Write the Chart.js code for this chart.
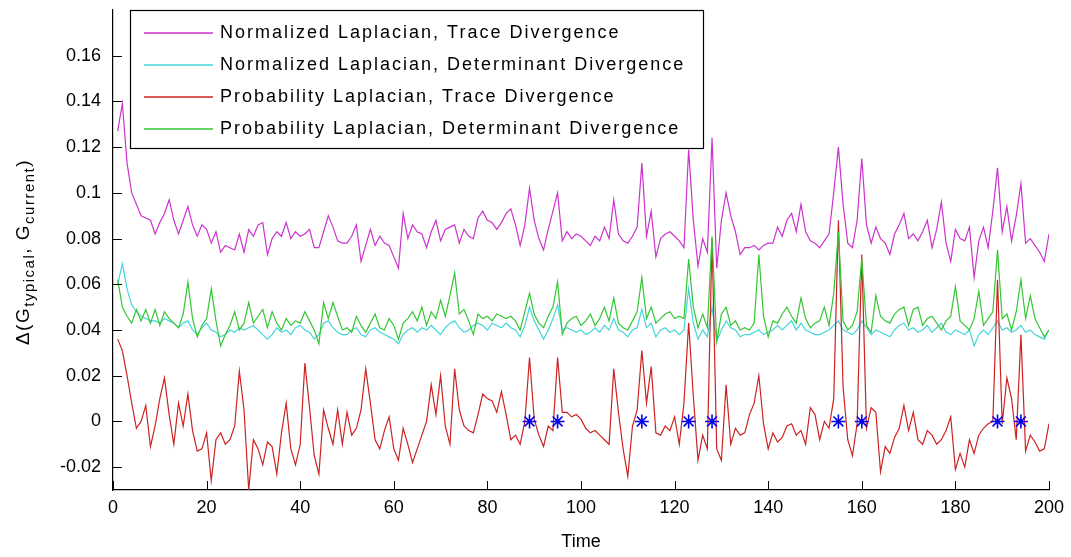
<!DOCTYPE html>
<html>
<head>
<meta charset="utf-8">
<script src="https://cdn.jsdelivr.net/npm/chart.js@4.4.1/dist/chart.umd.min.js"></script>
<style>
  html, body { margin: 0; padding: 0; background: #fff; }
  #chart { display: block; }
</style>
</head>
<body>
<canvas id="chart" width="1071" height="557"></canvas>
<script>
// Time steps 1..200
const times = Array.from({ length: 200 }, (_, i) => i + 1);

// Normalized Laplacian, Trace Divergence
const normTrace = [
  0.127, 0.139, 0.113, 0.100, 0.095, 0.090, 0.089, 0.088, 0.082, 0.087,
  0.091, 0.097, 0.088, 0.082, 0.088, 0.094, 0.086, 0.081, 0.086, 0.084,
  0.078, 0.083, 0.074, 0.077, 0.076, 0.075, 0.082, 0.074, 0.084, 0.081,
  0.086, 0.087, 0.073, 0.080, 0.083, 0.081, 0.087, 0.080, 0.083, 0.081,
  0.082, 0.084, 0.076, 0.076, 0.083, 0.090, 0.085, 0.079, 0.078, 0.078,
  0.081, 0.086, 0.070, 0.077, 0.084, 0.077, 0.081, 0.078, 0.077, 0.072,
  0.067, 0.091, 0.080, 0.086, 0.083, 0.082, 0.076, 0.083, 0.088, 0.079,
  0.084, 0.085, 0.086, 0.078, 0.084, 0.081, 0.080, 0.089, 0.092, 0.088,
  0.087, 0.084, 0.087, 0.091, 0.093, 0.086, 0.077, 0.086, 0.102, 0.088,
  0.080, 0.075, 0.084, 0.092, 0.100, 0.079, 0.083, 0.080, 0.082, 0.081,
  0.079, 0.077, 0.081, 0.079, 0.085, 0.080, 0.097, 0.082, 0.079, 0.078,
  0.081, 0.085, 0.113, 0.081, 0.092, 0.072, 0.080, 0.082, 0.083, 0.081,
  0.079, 0.076, 0.119, 0.088, 0.068, 0.080, 0.074, 0.124, 0.067, 0.088,
  0.100, 0.090, 0.083, 0.073, 0.076, 0.076, 0.077, 0.075, 0.077, 0.078,
  0.078, 0.085, 0.081, 0.088, 0.091, 0.083, 0.095, 0.083, 0.079, 0.078,
  0.076, 0.079, 0.082, 0.100, 0.120, 0.095, 0.078, 0.076, 0.088, 0.115,
  0.086, 0.078, 0.085, 0.080, 0.078, 0.073, 0.082, 0.086, 0.091, 0.080,
  0.082, 0.079, 0.083, 0.088, 0.076, 0.084, 0.096, 0.078, 0.070, 0.084,
  0.080, 0.079, 0.085, 0.063, 0.079, 0.085, 0.076, 0.092, 0.111, 0.083,
  0.094, 0.079, 0.090, 0.104, 0.078, 0.080, 0.077, 0.074, 0.070, 0.082
];

// Normalized Laplacian, Determinant Divergence
const normDet = [
  0.060, 0.069, 0.058, 0.051, 0.048, 0.046, 0.045, 0.044, 0.044, 0.043,
  0.045, 0.044, 0.043, 0.041, 0.043, 0.044, 0.040, 0.038, 0.041, 0.043,
  0.040, 0.039, 0.037, 0.038, 0.040, 0.039, 0.041, 0.040, 0.041, 0.042,
  0.040, 0.038, 0.036, 0.038, 0.041, 0.039, 0.040, 0.038, 0.041, 0.042,
  0.040, 0.039, 0.036, 0.038, 0.043, 0.044, 0.041, 0.039, 0.038, 0.038,
  0.040, 0.041, 0.038, 0.037, 0.040, 0.041, 0.039, 0.038, 0.037, 0.036,
  0.034, 0.038, 0.040, 0.041, 0.039, 0.041, 0.040, 0.042, 0.040, 0.038,
  0.041, 0.043, 0.044, 0.041, 0.039, 0.040, 0.042, 0.043, 0.042, 0.040,
  0.043, 0.042, 0.041, 0.043, 0.041, 0.040, 0.037, 0.042, 0.050, 0.044,
  0.040, 0.036, 0.040, 0.045, 0.051, 0.040, 0.041, 0.040, 0.039, 0.040,
  0.038, 0.039, 0.041, 0.039, 0.042, 0.040, 0.045, 0.040, 0.039, 0.037,
  0.040, 0.041, 0.049, 0.041, 0.043, 0.037, 0.040, 0.041, 0.039, 0.040,
  0.038, 0.040, 0.058, 0.043, 0.036, 0.040, 0.037, 0.050, 0.035, 0.040,
  0.044, 0.041, 0.040, 0.037, 0.038, 0.038, 0.039, 0.040, 0.038, 0.039,
  0.040, 0.042, 0.040, 0.042, 0.044, 0.040, 0.043, 0.040, 0.039, 0.038,
  0.038, 0.039, 0.040, 0.042, 0.044, 0.040, 0.039, 0.038, 0.040, 0.044,
  0.041, 0.038, 0.040, 0.039, 0.038, 0.037, 0.040, 0.042, 0.043, 0.040,
  0.041, 0.039, 0.040, 0.042, 0.039, 0.041, 0.043, 0.039, 0.038, 0.040,
  0.039, 0.038, 0.040, 0.033, 0.038, 0.040, 0.038, 0.041, 0.044, 0.040,
  0.041, 0.039, 0.040, 0.042, 0.039, 0.040, 0.038, 0.037, 0.036, 0.040
];

// Probability Laplacian, Trace Divergence
const probTrace = [
  0.036, 0.031, 0.020, 0.008, -0.003, 0.000, 0.007, -0.011, -0.002, 0.010,
  0.019, 0.003, -0.010, 0.008, -0.002, 0.012, -0.004, -0.013, -0.012, -0.005,
  -0.026, -0.008, -0.005, -0.010, -0.008, -0.002, 0.022, 0.005, -0.030, -0.008,
  -0.012, -0.019, -0.009, -0.011, -0.023, -0.005, 0.008, -0.012, -0.019, -0.010,
  0.0255, 0.006, -0.015, -0.023, 0.005, -0.003, -0.010, 0.005, -0.010, 0.004,
  -0.006, -0.003, 0.005, 0.023, 0.008, -0.008, -0.012, -0.004, 0.002, -0.012,
  -0.017, -0.003, -0.010, -0.018, -0.012, -0.006, 0.000, 0.016, 0.003, 0.020,
  -0.002, -0.010, 0.023, 0.005, -0.002, -0.004, -0.005, 0.003, 0.012, 0.010,
  0.009, 0.004, 0.013, 0.003, -0.008, -0.006, -0.010, 0.000, 0.028, 0.001,
  -0.006, -0.011, -0.002, -0.004, 0.028, 0.004, 0.004, 0.002, 0.003, 0.001,
  -0.003, -0.005, -0.004, -0.006, -0.008, -0.010, 0.023, 0.004, -0.012, -0.024,
  -0.002, 0.005, 0.031, 0.008, 0.024, -0.005, -0.006, -0.002, -0.004, 0.002,
  -0.010, 0.008, 0.043, 0.011, -0.017, -0.006, -0.012, 0.080, -0.012, -0.017,
  0.016, -0.010, -0.003, -0.006, -0.005, 0.003, 0.008, 0.020, -0.001, -0.012,
  -0.005, -0.009, -0.007, -0.002, -0.001, -0.006, -0.004, -0.010, 0.006, 0.003,
  -0.008, 0.000, -0.003, 0.010, 0.088, 0.015, -0.008, -0.015, -0.001, 0.073,
  -0.003, 0.006, 0.004, -0.022, -0.011, -0.014, -0.007, -0.003, 0.007, -0.004,
  0.004, -0.008, -0.010, -0.004, -0.006, -0.010, -0.008, -0.004, 0.002, -0.021,
  -0.014, -0.020, -0.008, -0.014, -0.006, -0.003, -0.001, 0.000, 0.062, -0.001,
  0.019, 0.010, -0.008, 0.038, -0.013, -0.006, -0.009, -0.013, -0.012, -0.001
];

// Probability Laplacian, Determinant Divergence
const probDet = [
  0.062, 0.050, 0.046, 0.043, 0.049, 0.044, 0.049, 0.043, 0.049, 0.042,
  0.048, 0.045, 0.043, 0.041, 0.047, 0.061, 0.045, 0.037, 0.042, 0.045,
  0.058, 0.044, 0.033, 0.038, 0.042, 0.048, 0.040, 0.043, 0.052, 0.043,
  0.046, 0.049, 0.041, 0.048, 0.043, 0.040, 0.045, 0.042, 0.044, 0.043,
  0.048, 0.044, 0.040, 0.034, 0.052, 0.045, 0.052, 0.046, 0.040, 0.041,
  0.039, 0.046, 0.042, 0.039, 0.043, 0.047, 0.041, 0.040, 0.045, 0.042,
  0.036, 0.043, 0.045, 0.048, 0.044, 0.050, 0.042, 0.048, 0.045, 0.053,
  0.046, 0.055, 0.065, 0.047, 0.049, 0.044, 0.038, 0.047, 0.045, 0.046,
  0.044, 0.047, 0.046, 0.045, 0.046, 0.044, 0.040, 0.048, 0.056, 0.047,
  0.043, 0.041, 0.046, 0.050, 0.061, 0.038, 0.043, 0.045, 0.046, 0.042,
  0.044, 0.047, 0.042, 0.045, 0.050, 0.044, 0.054, 0.043, 0.041, 0.040,
  0.044, 0.048, 0.063, 0.045, 0.050, 0.043, 0.045, 0.047, 0.048, 0.045,
  0.046, 0.045, 0.071, 0.050, 0.041, 0.047, 0.041, 0.081, 0.035, 0.047,
  0.050, 0.042, 0.044, 0.040, 0.041, 0.040, 0.043, 0.073, 0.046, 0.037,
  0.044, 0.043, 0.047, 0.050, 0.046, 0.043, 0.054, 0.045, 0.041, 0.043,
  0.044, 0.050, 0.042, 0.056, 0.083, 0.044, 0.040, 0.042, 0.048, 0.071,
  0.042, 0.039, 0.055, 0.046, 0.044, 0.043, 0.047, 0.049, 0.050, 0.042,
  0.049, 0.050, 0.042, 0.045, 0.046, 0.043, 0.040, 0.044, 0.046, 0.059,
  0.044, 0.042, 0.040, 0.045, 0.057, 0.042, 0.045, 0.048, 0.075, 0.045,
  0.047, 0.040, 0.048, 0.062, 0.045, 0.055, 0.045, 0.041, 0.037, 0.040
];

// Detected change points (blue asterisks on the zero line)
const eventTimes = [89, 95, 113, 123, 128, 155, 160, 189, 194];
const eventValues = [0, 0, 0, 0, 0, 0, 0, 0, 0];

const xTicks = [0, 20, 40, 60, 80, 100, 120, 140, 160, 180, 200];
const yTicks = [-0.02, 0, 0.02, 0.04, 0.06, 0.08, 0.1, 0.12, 0.14, 0.16];
const yTickLabels = ['-0.02', '0', '0.02', '0.04', '0.06', '0.08', '0.1', '0.12', '0.14', '0.16'];

const seriesNames = [
  'Normalized Laplacian, Trace Divergence',
  'Normalized Laplacian, Determinant Divergence',
  'Probability Laplacian, Trace Divergence',
  'Probability Laplacian, Determinant Divergence'
];
const seriesColors = ['#cc33cc', '#44d4dc', '#cc2222', '#33c633'];

const FONT = '"Liberation Sans", Arial, Helvetica, sans-serif';

function toPoints(xs, ys) {
  return xs.map((x, i) => ({ x: x, y: ys[i] }));
}

function lineSet(idx, values, order) {
  return {
    label: seriesNames[idx],
    data: toPoints(times, values),
    borderColor: seriesColors[idx],
    borderWidth: 1.2,
    pointRadius: 0,
    tension: 0,
    fill: false,
    order: order
  };
}

// inward tick marks, like matlab
const tickMarks = {
  id: 'tickMarks',
  afterDatasetsDraw(chart) {
    const { ctx, chartArea: a, scales: { x, y } } = chart;
    ctx.save();
    ctx.strokeStyle = '#000';
    ctx.lineWidth = 1;
    ctx.beginPath();
    x.ticks.forEach(t => {
      const px = Math.round(x.getPixelForValue(t.value)) + 0.5;
      ctx.moveTo(px, a.bottom);
      ctx.lineTo(px, a.bottom - 9);
    });
    y.ticks.forEach(t => {
      const py = Math.round(y.getPixelForValue(t.value)) + 0.5;
      ctx.moveTo(a.left, py);
      ctx.lineTo(a.left + 9, py);
    });
    ctx.stroke();
    ctx.restore();
  }
};

// boxed legend in the upper left corner
const boxLegend = {
  id: 'boxLegend',
  afterDraw(chart) {
    const ctx = chart.ctx;
    const left = 130.5, top = 10.5, w = 573, h = 138;
    ctx.save();
    ctx.fillStyle = '#fff';
    ctx.fillRect(left, top, w, h);
    ctx.strokeStyle = '#000';
    ctx.lineWidth = 1.2;
    ctx.strokeRect(left, top, w, h);
    ctx.font = '18px ' + FONT;
    ctx.letterSpacing = '2px';
    ctx.textBaseline = 'middle';
    ctx.textAlign = 'left';
    seriesNames.forEach((name, i) => {
      const cy = 33 + i * 32;
      ctx.strokeStyle = seriesColors[i];
      ctx.lineWidth = 1.3;
      ctx.beginPath();
      ctx.moveTo(144, cy);
      ctx.lineTo(213, cy);
      ctx.stroke();
      ctx.fillStyle = '#000';
      ctx.fillText(name, 220, cy);
    });
    ctx.restore();
  }
};

// y label with subscripts
const yLabel = {
  id: 'yLabel',
  afterDraw(chart) {
    const ctx = chart.ctx;
    const a = chart.chartArea;
    const parts = [
      ['\u0394(G', 19, 0],
      ['typical', 15, 5],
      [', G', 19, 0],
      ['current', 15, 5],
      [')', 19, 0]
    ];
    ctx.save();
    ctx.letterSpacing = '1.5px';
    let total = 0;
    parts.forEach(p => {
      ctx.font = p[1] + 'px ' + FONT;
      total += ctx.measureText(p[0]).width;
    });
    ctx.translate(29, (a.top + a.bottom) / 2 + 2);
    ctx.rotate(-Math.PI / 2);
    ctx.fillStyle = '#000';
    ctx.textBaseline = 'alphabetic';
    let cx = -total / 2;
    parts.forEach(p => {
      ctx.font = p[1] + 'px ' + FONT;
      ctx.fillText(p[0], cx, p[2]);
      cx += ctx.measureText(p[0]).width;
    });
    ctx.restore();
  }
};

new Chart(document.getElementById('chart'), {
  type: 'line',
  data: {
    datasets: [
      {
        label: 'events',
        data: toPoints(eventTimes, eventValues),
        showLine: false,
        pointStyle: 'star',
        pointRadius: 7,
        pointBorderColor: '#0000ee',
        pointBorderWidth: 1.6,
        borderColor: '#0000ee',
        order: 1
      },
      lineSet(3, probDet, 2),
      lineSet(2, probTrace, 3),
      lineSet(1, normDet, 4),
      lineSet(0, normTrace, 5)
    ]
  },
  options: {
    responsive: false,
    animation: false,
    layout: { padding: { top: 10, right: 22, left: 0, bottom: 0 } },
    plugins: {
      legend: { display: false },
      tooltip: { enabled: false }
    },
    scales: {
      x: {
        type: 'linear',
        min: 0,
        max: 200,
        afterBuildTicks: axis => { axis.ticks = xTicks.map(v => ({ value: v })); },
        afterFit: axis => {
          axis.height = 67;
          axis.paddingLeft = 0;
          axis.paddingRight = 0;
        },
        grid: { display: false, drawTicks: false },
        border: { display: true, color: '#000', width: 1.2 },
        ticks: {
          color: '#000',
          padding: 7,
          maxRotation: 0,
          font: { size: 18, family: FONT },
          callback: v => String(v)
        },
        title: {
          display: true,
          text: 'Time',
          color: '#000',
          padding: { top: 0, bottom: 4 },
          font: { size: 18, family: FONT }
        }
      },
      y: {
        type: 'linear',
        min: -0.03,
        max: 0.18,
        afterBuildTicks: axis => { axis.ticks = yTicks.map(v => ({ value: v })); },
        afterFit: axis => {
          axis.width = 113;
          axis.paddingTop = 0;
          axis.paddingBottom = 0;
        },
        grid: { display: false, drawTicks: false },
        border: { display: true, color: '#000', width: 1.2 },
        ticks: {
          color: '#000',
          padding: 12,
          font: { size: 18, family: FONT },
          callback: (v, i) => yTickLabels[i]
        }
      }
    }
  },
  plugins: [tickMarks, boxLegend, yLabel]
});
</script>
</body>
</html>
